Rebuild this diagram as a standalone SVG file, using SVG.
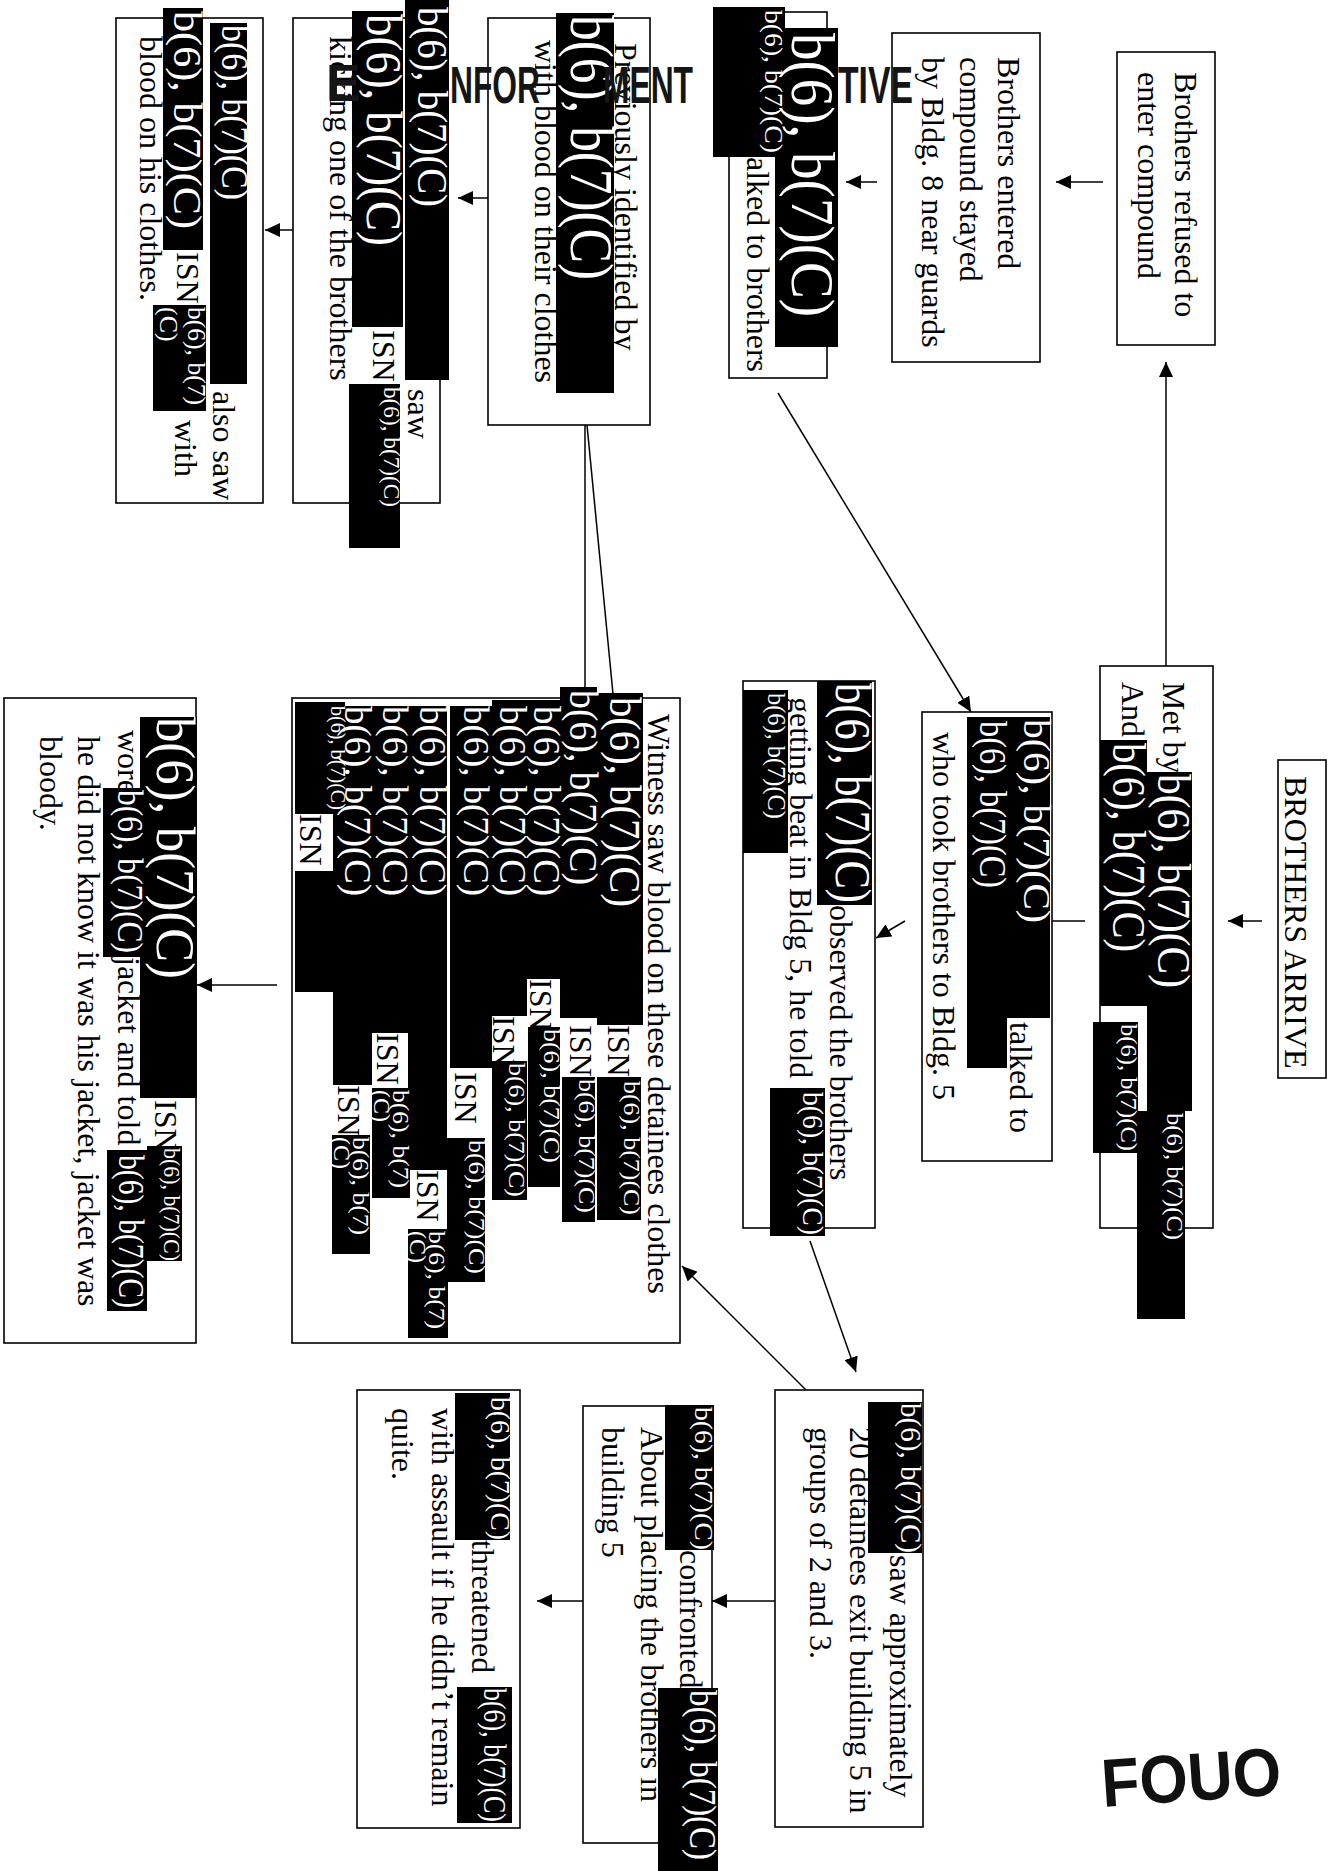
<svg xmlns="http://www.w3.org/2000/svg" width="1340" height="1871" viewBox="0 0 1340 1871">
<style>
.bx{fill:#fff;stroke:#000;stroke-width:1.6}
.t{font-family:"Liberation Serif","Times New Roman",serif;font-size:32px;fill:#000}
.rd{fill:#000}
.lb{font-family:"Liberation Serif","Times New Roman",serif;fill:#fff}
.c{stroke:#000;stroke-width:1.5;fill:none}
.hd{font-family:"Liberation Sans",Arial,sans-serif;font-weight:bold;font-size:52px;fill:#151515}
</style>
<defs>
<marker id="ah" markerWidth="15" markerHeight="14" refX="15" refY="7" orient="auto" markerUnits="userSpaceOnUse"><path d="M0,0 L15,7 L0,14 z" fill="#000"/></marker>
</defs>
<rect width="1340" height="1871" fill="#fff"/>

<g id="connectors">
<line class="c" x1="1166" y1="666" x2="1166" y2="362" marker-end="url(#ah)"/>
<line class="c" x1="1103" y1="182" x2="1056" y2="182" marker-end="url(#ah)"/>
<line class="c" x1="877" y1="182" x2="846" y2="182" marker-end="url(#ah)"/>
<line class="c" x1="778" y1="393" x2="971" y2="712" marker-end="url(#ah)"/>
<line class="c" x1="488" y1="198" x2="458" y2="198" marker-end="url(#ah)"/>
<line class="c" x1="293" y1="230" x2="265" y2="230" marker-end="url(#ah)"/>
<line class="c" x1="1262" y1="921" x2="1228" y2="921" marker-end="url(#ah)"/>
<line class="c" x1="1052" y1="921" x2="1085" y2="921"/>
<line class="c" x1="905" y1="921" x2="876" y2="938" marker-end="url(#ah)"/>
<line class="c" x1="810" y1="1241" x2="856" y2="1372" marker-end="url(#ah)"/>
<line class="c" x1="806" y1="1390" x2="682" y2="1266" marker-end="url(#ah)"/>
<line class="c" x1="775" y1="1601" x2="712" y2="1601" marker-end="url(#ah)"/>
<line class="c" x1="583" y1="1601" x2="537" y2="1601" marker-end="url(#ah)"/>
<line class="c" x1="277" y1="985" x2="197" y2="985" marker-end="url(#ah)"/>
<line class="c" x1="585" y1="425" x2="585" y2="690"/>
<line class="c" x1="587" y1="425" x2="613" y2="694"/>
</g>

<g id="n-refused" transform="translate(1215 52) rotate(90)">
<rect class="bx" x="0" y="0" width="293" height="98"/>
<text class="t" x="20" y="40">Brothers refused to</text>
<text class="t" x="20" y="77">enter compound</text>
</g>

<g id="n-entered" transform="translate(1040 33) rotate(90)">
<rect class="bx" x="0" y="0" width="329" height="148"/>
<text class="t" x="24" y="42">Brothers entered</text>
<text class="t" x="24" y="80">compound stayed</text>
<text class="t" x="24" y="118">by Bldg. 8 near guards</text>
</g>

<g id="n-talked-brothers" transform="translate(827 12) rotate(90)">
<rect class="bx" x="0" y="0" width="366" height="98"/>
<text class="t" x="145" y="80">alked to brothers</text>
<rect class="rd" x="16" y="-11" width="319" height="63"/>
<rect class="rd" x="-5" y="42" width="150" height="72"/>
<text class="lb" x="21" y="35" font-size="62" textLength="284" lengthAdjust="spacingAndGlyphs">b(6), b(7)(C)</text>
<text class="lb" x="-2" y="62" font-size="25" textLength="143" lengthAdjust="spacingAndGlyphs">b(6), b(7)(C)</text>
</g>

<g id="n-previously" transform="translate(650 18) rotate(90)">
<rect class="bx" x="0" y="0" width="407" height="162"/>
<text class="t" x="25" y="35">Previously identified by</text>
<text class="t" x="22" y="115">with blood on their clothes</text>
<rect class="rd" x="-5" y="36" width="380" height="58"/>
<text class="lb" x="-3" y="79" font-size="61" textLength="265" lengthAdjust="spacingAndGlyphs">b(6), b(7)(C)</text>
</g>

<g id="n-kicking" transform="translate(440 18) rotate(90)">
<rect class="bx" x="0" y="0" width="485" height="147"/>
<text class="t" x="18" y="110">kicking one of the brothers</text>
<text class="t" x="371" y="32">saw</text>
<text class="t" x="312" y="67">ISN</text>
<rect class="rd" x="-18" y="-9" width="380" height="44"/>
<rect class="rd" x="-7" y="37" width="316" height="51"/>
<rect class="rd" x="366" y="40" width="164" height="51"/>
<text class="lb" x="-11" y="22" font-size="42" textLength="200" lengthAdjust="spacingAndGlyphs">b(6), b(7)(C)</text>
<text class="lb" x="-4" y="73" font-size="50" textLength="232" lengthAdjust="spacingAndGlyphs">b(6), b(7)(C)</text>
<text class="lb" x="369" y="56" font-size="24" textLength="120" lengthAdjust="spacingAndGlyphs">b(6), b(7)(C)</text>
</g>

<g id="n-also-saw" transform="translate(263 18) rotate(90)">
<rect class="bx" x="0" y="0" width="485" height="147"/>
<text class="t" x="373" y="50">also saw</text>
<text class="t" x="234" y="86">ISN</text>
<text class="t" x="402" y="88">with</text>
<text class="t" x="18" y="123">blood on his clothes.</text>
<rect class="rd" x="5" y="16" width="361" height="37"/>
<rect class="rd" x="-10" y="60" width="242" height="40"/>
<rect class="rd" x="287" y="57" width="106" height="53"/>
<text class="lb" x="7" y="41" font-size="37" textLength="175" lengthAdjust="spacingAndGlyphs">b(6), b(7)(C)</text>
<text class="lb" x="-7" y="89" font-size="40" textLength="218" lengthAdjust="spacingAndGlyphs">b(6), b(7)(C)</text>
<text class="lb" x="289" y="75" font-size="26" textLength="98" lengthAdjust="spacingAndGlyphs">b(6), b(7)</text>
<text class="lb" x="289" y="103" font-size="26">(C)</text>
</g>

<g id="n-arrive" transform="translate(1326 760) rotate(90)">
<rect class="bx" x="0" y="0" width="318" height="48"/>
<text class="t" x="16" y="41">BROTHERS ARRIVE</text>
</g>

<g id="n-met-by" transform="translate(1213 666) rotate(90)">
<rect class="bx" x="0" y="0" width="562" height="113"/>
<text class="t" x="16" y="50">Met by</text>
<text class="t" x="16" y="91">And</text>
<rect class="rd" x="106" y="21" width="339" height="45"/>
<rect class="rd" x="74" y="66" width="266" height="47"/>
<rect class="rd" x="356" y="75" width="131" height="45"/>
<rect class="rd" x="445" y="28" width="208" height="48"/>
<text class="lb" x="108" y="55" font-size="46" textLength="214" lengthAdjust="spacingAndGlyphs">b(6), b(7)(C)</text>
<text class="lb" x="77" y="100" font-size="46" textLength="209" lengthAdjust="spacingAndGlyphs">b(6), b(7)(C)</text>
<text class="lb" x="358" y="92" font-size="24" textLength="127" lengthAdjust="spacingAndGlyphs">b(6), b(7)(C)</text>
<text class="lb" x="447" y="46" font-size="24" textLength="127" lengthAdjust="spacingAndGlyphs">b(6), b(7)(C)</text>
</g>

<g id="n-talked-to" transform="translate(1052 712) rotate(90)">
<rect class="bx" x="0" y="0" width="449" height="130"/>
<text class="t" x="310" y="42">talked to</text>
<text class="t" x="20" y="119">who took brothers to Bldg. 5</text>
<rect class="rd" x="5" y="2" width="301" height="83"/>
<rect class="rd" x="306" y="45" width="50" height="40"/>
<text class="lb" x="7" y="28" font-size="38" textLength="204" lengthAdjust="spacingAndGlyphs">b(6), b(7)(C)</text>
<text class="lb" x="9" y="72" font-size="37" textLength="167" lengthAdjust="spacingAndGlyphs">b(6), b(7)(C)</text>
</g>

<g id="n-observed" transform="translate(875 681) rotate(90)">
<rect class="bx" x="0" y="0" width="547" height="132"/>
<text class="t" x="224" y="45">observed the brothers</text>
<text class="t" x="16" y="85">getting beat in Bldg 5, he told</text>
<rect class="rd" x="0" y="3" width="224" height="55"/>
<rect class="rd" x="407" y="50" width="148" height="55"/>
<rect class="rd" x="9" y="87" width="163" height="45"/>
<text class="lb" x="2" y="39" font-size="50" textLength="220" lengthAdjust="spacingAndGlyphs">b(6), b(7)(C)</text>
<text class="lb" x="411" y="72" font-size="29" textLength="143" lengthAdjust="spacingAndGlyphs">b(6), b(7)(C)</text>
<text class="lb" x="12" y="107" font-size="26" textLength="126" lengthAdjust="spacingAndGlyphs">b(6), b(7)(C)</text>
</g>

<g id="n-approx" transform="translate(923 1390) rotate(90)">
<rect class="bx" x="0" y="0" width="437" height="148"/>
<text class="t" x="165" y="33">saw approximately</text>
<text class="t" x="37" y="73">20 detainees exit building 5 in</text>
<text class="t" x="37" y="113">groups of 2 and 3.</text>
<rect class="rd" x="12" y="1" width="151" height="54"/>
<text class="lb" x="13" y="22" font-size="29" textLength="150" lengthAdjust="spacingAndGlyphs">b(6), b(7)(C)</text>
</g>

<g id="n-confronted" transform="translate(712 1406) rotate(90)">
<rect class="bx" x="0" y="0" width="437" height="129"/>
<text class="t" x="144" y="32">confronted</text>
<text class="t" x="21" y="71">About placing the brothers in</text>
<text class="t" x="21" y="110">building 5</text>
<rect class="rd" x="-1" y="-2" width="145" height="49"/>
<rect class="rd" x="282" y="-6" width="183" height="60"/>
<text class="lb" x="284" y="22" font-size="38" textLength="170" lengthAdjust="spacingAndGlyphs">b(6), b(7)(C)</text>
<text class="lb" x="1" y="17" font-size="26" textLength="143" lengthAdjust="spacingAndGlyphs">b(6), b(7)(C)</text>
</g>

<g id="n-threatened" transform="translate(520 1390) rotate(90)">
<rect class="bx" x="0" y="0" width="438" height="163"/>
<text class="t" x="150" y="48">threatened</text>
<text class="t" x="18" y="88">with assault if he didn’t remain</text>
<text class="t" x="18" y="128">quite.</text>
<rect class="rd" x="3" y="10" width="147" height="55"/>
<rect class="rd" x="297" y="8" width="136" height="55"/>
<text class="lb" x="7" y="29" font-size="27" textLength="143" lengthAdjust="spacingAndGlyphs">b(6), b(7)(C)</text>
<text class="lb" x="298" y="36" font-size="31" textLength="134" lengthAdjust="spacingAndGlyphs">b(6), b(7)(C)</text>
</g>

<g id="n-witness" transform="translate(680 698) rotate(90)">
<rect class="bx" x="0" y="0" width="645" height="388"/>
<text class="t" x="16" y="32">Witness saw blood on these detainees clothes</text>
<text class="t" x="327" y="72">ISN</text>
<text class="t" x="327" y="110">ISN</text>
<text class="t" x="281" y="150">ISN</text>
<text class="t" x="318" y="187">ISN</text>
<text class="t" x="374" y="225">ISN</text>
<text class="t" x="472" y="263">ISN</text>
<text class="t" x="335" y="303">ISN</text>
<text class="t" x="387" y="342">ISN</text>
<text class="t" x="116" y="380">ISN</text>
<rect class="rd" x="-5" y="37" width="332" height="46"/>
<rect class="rd" x="-11" y="83" width="331" height="37"/>
<rect class="rd" x="2" y="120" width="279" height="33"/>
<rect class="rd" x="2" y="153" width="316" height="35"/>
<rect class="rd" x="8" y="188" width="362" height="42"/>
<rect class="rd" x="8" y="233" width="464" height="39"/>
<rect class="rd" x="8" y="272" width="327" height="36"/>
<rect class="rd" x="8" y="308" width="379" height="39"/>
<rect class="rd" x="4" y="335" width="112" height="50"/>
<rect class="rd" x="173" y="347" width="121" height="38"/>
<rect class="rd" x="379" y="39" width="143" height="44"/>
<rect class="rd" x="379" y="85" width="145" height="33"/>
<rect class="rd" x="329" y="120" width="160" height="32"/>
<rect class="rd" x="363" y="153" width="139" height="35"/>
<rect class="rd" x="440" y="195" width="144" height="38"/>
<rect class="rd" x="531" y="232" width="109" height="40"/>
<rect class="rd" x="390" y="270" width="110" height="38"/>
<rect class="rd" x="437" y="310" width="119" height="38"/>
<text class="lb" x="-1" y="70" font-size="44" textLength="210" lengthAdjust="spacingAndGlyphs">b(6), b(7)(C)</text>
<text class="lb" x="-8" y="110" font-size="40" textLength="195" lengthAdjust="spacingAndGlyphs">b(6), b(7)(C)</text>
<text class="lb" x="8" y="146" font-size="38" textLength="190" lengthAdjust="spacingAndGlyphs">b(6), b(7)(C)</text>
<text class="lb" x="8" y="180" font-size="37" textLength="190" lengthAdjust="spacingAndGlyphs">b(6), b(7)(C)</text>
<text class="lb" x="8" y="216" font-size="36" textLength="190" lengthAdjust="spacingAndGlyphs">b(6), b(7)(C)</text>
<text class="lb" x="8" y="260" font-size="37" textLength="190" lengthAdjust="spacingAndGlyphs">b(6), b(7)(C)</text>
<text class="lb" x="8" y="297" font-size="35" textLength="190" lengthAdjust="spacingAndGlyphs">b(6), b(7)(C)</text>
<text class="lb" x="8" y="335" font-size="37" textLength="190" lengthAdjust="spacingAndGlyphs">b(6). b(7)(C)</text>
<text class="lb" x="8" y="349" font-size="22" textLength="104" lengthAdjust="spacingAndGlyphs">b(6), b(7)(C)</text>
<text class="lb" x="383" y="56" font-size="24" textLength="134" lengthAdjust="spacingAndGlyphs">b(6), b(7)(C)</text>
<text class="lb" x="381" y="101" font-size="24" textLength="134" lengthAdjust="spacingAndGlyphs">b(6), b(7)(C)</text>
<text class="lb" x="331" y="136" font-size="24" textLength="134" lengthAdjust="spacingAndGlyphs">b(6), b(7)(C)</text>
<text class="lb" x="365" y="171" font-size="24" textLength="134" lengthAdjust="spacingAndGlyphs">b(6), b(7)(C)</text>
<text class="lb" x="442" y="211" font-size="24" textLength="134" lengthAdjust="spacingAndGlyphs">b(6), b(7)(C)</text>
<text class="lb" x="533" y="251" font-size="24" textLength="98" lengthAdjust="spacingAndGlyphs">b(6), b(7)</text>
<text class="lb" x="533" y="270" font-size="24">(C)</text>
<text class="lb" x="392" y="287" font-size="24" textLength="98" lengthAdjust="spacingAndGlyphs">b(6), b(7)</text>
<text class="lb" x="392" y="306" font-size="24">(C)</text>
<text class="lb" x="439" y="327" font-size="24" textLength="98" lengthAdjust="spacingAndGlyphs">b(6), b(7)</text>
<text class="lb" x="439" y="346" font-size="24">(C)</text>
</g>

<g id="n-jacket" transform="translate(196 698) rotate(90)">
<rect class="bx" x="0" y="0" width="645" height="192"/>
<text class="t" x="402" y="41">ISN</text>
<text class="t" x="32" y="78">wore</text>
<text class="t" x="259" y="78">jacket and told</text>
<text class="t" x="38" y="118">he did not know it was his jacket, jacket was</text>
<text class="t" x="38" y="156">bloody.</text>
<rect class="rd" x="19" y="-1" width="381" height="57"/>
<rect class="rd" x="448" y="14" width="115" height="35"/>
<rect class="rd" x="90" y="51" width="169" height="42"/>
<rect class="rd" x="452" y="49" width="161" height="40"/>
<text class="lb" x="19" y="39" font-size="55" textLength="262" lengthAdjust="spacingAndGlyphs">b(6), b(7)(C)</text>
<text class="lb" x="450" y="32" font-size="24" textLength="113" lengthAdjust="spacingAndGlyphs">b(6), b(7)(C)</text>
<text class="lb" x="92" y="78" font-size="35" textLength="163" lengthAdjust="spacingAndGlyphs">b(6), b(7)(C)</text>
<text class="lb" x="457" y="77" font-size="36" textLength="153" lengthAdjust="spacingAndGlyphs">b(6), b(7)(C)</text>
</g>

<g id="header">
<text class="hd" x="326" y="101" font-size="38" fill="#333">E</text>
<text class="hd" x="450" y="103" textLength="90" lengthAdjust="spacingAndGlyphs">NFOR</text>
<text class="hd" x="603" y="103" textLength="90" lengthAdjust="spacingAndGlyphs">MENT</text>
<text class="hd" x="838" y="103" textLength="75" lengthAdjust="spacingAndGlyphs">TIVE</text>
</g>

<g id="stamp">
<text x="1103" y="1807" transform="rotate(-4 1103 1807)" font-family="Liberation Sans, Arial, sans-serif" font-weight="bold" font-size="68" textLength="180" lengthAdjust="spacingAndGlyphs" fill="#111">FOUO</text>
</g>
</svg>
